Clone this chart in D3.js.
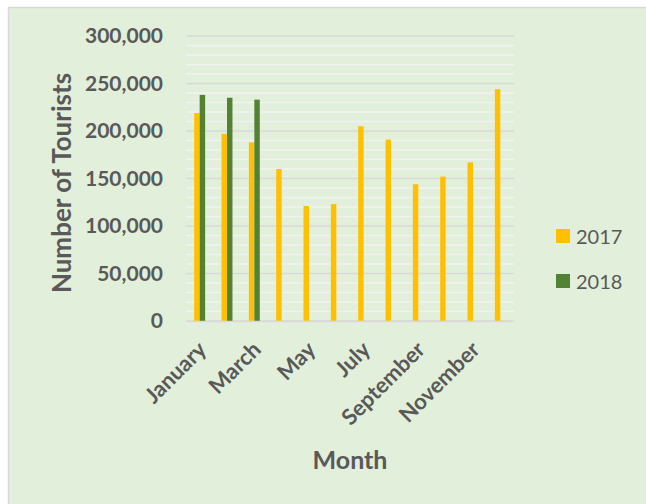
<!DOCTYPE html>
<html>
<head>
<meta charset="utf-8">
<script src="https://cdn.jsdelivr.net/npm/d3@7"></script>
<style>
  body { margin: 0; background: #fff; }
  svg { display: block; font-family: Lato, "Open Sans", sans-serif; }
</style>
</head>
<body>
<div id="chart"></div>
<script>
const width = 646, height = 504;

const months = ["January", "February", "March", "April", "May", "June",
  "July", "August", "September", "October", "November", "December"];
const series = ["2017", "2018"];
const values2017 = [219000, 197000, 188000, 160000, 121000, 123000,
  205000, 191000, 144000, 152000, 167000, 244000];
const values2018 = [238000, 235000, 233000, null, null, null,
  null, null, null, null, null, null];
const yTicks = [0, 50000, 100000, 150000, 200000, 250000, 300000];
const colors = {"2017": "#FFC000", "2018": "#548235"};

const margin = {top: 36, right: 132, bottom: 183, left: 186};
const plotW = width - margin.left - margin.right;
const plotH = height - margin.top - margin.bottom;

const svg = d3.select("#chart").append("svg")
  .attr("width", width)
  .attr("height", height);

// chart area background
svg.append("rect")
  .attr("x", 8.5).attr("y", 7.5)
  .attr("width", width).attr("height", height)
  .attr("fill", "#E2EFDA")
  .attr("stroke", "#D9D9D9")
  .attr("stroke-width", 1.5);

const g = svg.append("g").attr("transform", `translate(${margin.left},${margin.top})`);

const x = d3.scaleBand().domain(months).range([0, plotW]);
const y = d3.scaleLinear().domain([0, 300000]).range([plotH, 0]);
const barW = x.bandwidth() * 0.2;
const xs = d3.scaleBand().domain(series).range([-barW, barW]);

// minor gridlines
g.append("g")
  .selectAll("line").data(d3.range(10000, 300001, 10000).filter(v => v % 50000 !== 0))
  .join("line")
  .attr("x1", 0).attr("x2", plotW)
  .attr("y1", d => y(d)).attr("y2", d => y(d))
  .attr("stroke", "#F2F2F2")
  .attr("stroke-width", 1.5);

// major gridlines
g.append("g")
  .selectAll("line").data(yTicks)
  .join("line")
  .attr("x1", 0).attr("x2", plotW)
  .attr("y1", d => y(d)).attr("y2", d => y(d))
  .attr("stroke", "#D9D9D9")
  .attr("stroke-width", 1.5);

// bars
const rows = months.map((m, i) => ({month: m, "2017": values2017[i], "2018": values2018[i]}));
g.append("g")
  .selectAll("g").data(rows)
  .join("g")
  .attr("transform", d => `translate(${x(d.month) + x.bandwidth() / 2},0)`)
  .selectAll("rect")
  .data(d => series.filter(s => d[s] != null).map(s => ({key: s, value: d[s]})))
  .join("rect")
  .attr("x", d => xs(d.key))
  .attr("width", xs.bandwidth())
  .attr("y", d => y(d.value))
  .attr("height", d => plotH - y(d.value))
  .attr("fill", d => colors[d.key]);

// y axis
const yAxis = g.append("g")
  .call(d3.axisLeft(y).tickValues(yTicks).tickSize(0).tickPadding(23)
    .tickFormat(d3.format(",")));
yAxis.select(".domain").remove();
yAxis.selectAll("text")
  .attr("font-family", "Lato, sans-serif")
  .attr("font-size", 21)
  .attr("font-weight", "bold")
  .attr("fill", "#595959");

// x axis
const xAxis = g.append("g")
  .attr("transform", `translate(0,${plotH})`)
  .call(d3.axisBottom(x).tickSize(0)
    .tickFormat((d, i) => i % 2 === 0 ? d : ""));
xAxis.select(".domain").attr("stroke", "#D9D9D9").attr("stroke-width", 1.5);
xAxis.selectAll("text")
  .attr("font-family", "Lato, sans-serif")
  .attr("font-size", 22)
  .attr("font-weight", "bold")
  .attr("fill", "#595959")
  .attr("text-anchor", "end")
  .attr("dy", null)
  .attr("y", 0)
  .attr("transform", "translate(8,30) rotate(-45)");

// axis titles
svg.append("text")
  .attr("transform", "translate(71,183) rotate(-90)")
  .attr("text-anchor", "middle")
  .attr("font-size", 26)
  .attr("font-weight", "bold")
  .attr("fill", "#595959")
  .text("Number of Tourists");

svg.append("text")
  .attr("x", margin.left + plotW / 2)
  .attr("y", 469)
  .attr("text-anchor", "middle")
  .attr("font-size", 25)
  .attr("font-weight", "bold")
  .attr("fill", "#595959")
  .text("Month");

// legend
const legend = svg.append("g")
  .selectAll("g").data(series)
  .join("g")
  .attr("transform", (d, i) => `translate(556,${229 + i * 45})`);
legend.append("rect")
  .attr("width", 14).attr("height", 14)
  .attr("fill", d => colors[d]);
legend.append("text")
  .attr("x", 20).attr("y", 14.5)
  .attr("font-size", 20)
  .attr("fill", "#595959")
  .text(d => d);
</script>
</body>
</html>
